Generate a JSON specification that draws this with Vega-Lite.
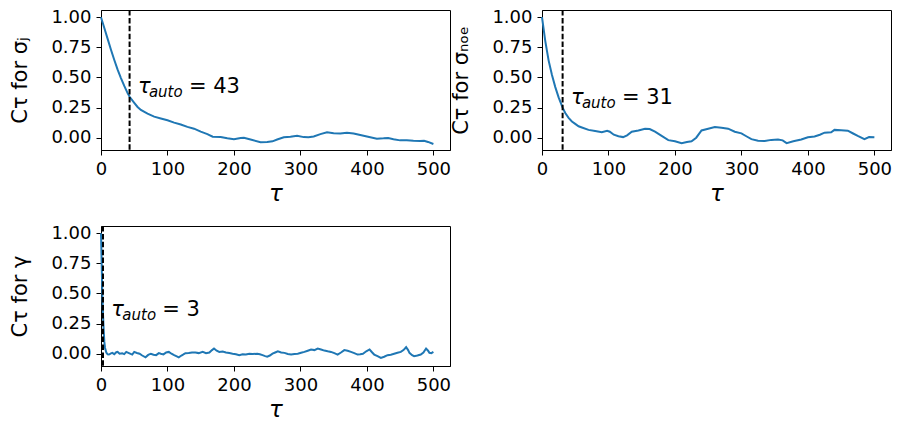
{
  "$schema": "https://vega.github.io/schema/vega-lite/v6.json",
  "padding": {"left": 9, "top": 7, "right": 5, "bottom": 5},
  "background": "white",
  "columns": 2,
  "spacing": {"column": -2, "row": 17},
  "datasets": {
    "sigJ": [
      {"tau": 0, "C": 1.0}, {"tau": 5, "C": 0.91}, {"tau": 10, "C": 0.82}, {"tau": 15, "C": 0.73},
      {"tau": 20, "C": 0.645}, {"tau": 25, "C": 0.565}, {"tau": 30, "C": 0.495}, {"tau": 35, "C": 0.43},
      {"tau": 40, "C": 0.37}, {"tau": 43, "C": 0.34}, {"tau": 50, "C": 0.29}, {"tau": 55, "C": 0.255},
      {"tau": 60, "C": 0.23}, {"tau": 70, "C": 0.2}, {"tau": 80, "C": 0.175}, {"tau": 90, "C": 0.16},
      {"tau": 100, "C": 0.145}, {"tau": 110, "C": 0.125}, {"tau": 120, "C": 0.11}, {"tau": 130, "C": 0.09},
      {"tau": 140, "C": 0.075}, {"tau": 150, "C": 0.05}, {"tau": 160, "C": 0.03}, {"tau": 168, "C": 0.008},
      {"tau": 180, "C": 0.005}, {"tau": 190, "C": -0.005}, {"tau": 200, "C": -0.012}, {"tau": 210, "C": -0.002},
      {"tau": 215, "C": 0.0}, {"tau": 225, "C": -0.015}, {"tau": 240, "C": -0.038}, {"tau": 250, "C": -0.035},
      {"tau": 258, "C": -0.03}, {"tau": 265, "C": -0.015}, {"tau": 275, "C": 0.003}, {"tau": 285, "C": 0.008},
      {"tau": 295, "C": 0.017}, {"tau": 305, "C": 0.005}, {"tau": 312, "C": 0.003}, {"tau": 320, "C": 0.01},
      {"tau": 330, "C": 0.03}, {"tau": 340, "C": 0.045}, {"tau": 350, "C": 0.038}, {"tau": 360, "C": 0.035},
      {"tau": 370, "C": 0.042}, {"tau": 380, "C": 0.035}, {"tau": 390, "C": 0.022}, {"tau": 400, "C": 0.01},
      {"tau": 415, "C": -0.008}, {"tau": 425, "C": -0.005}, {"tau": 432, "C": -0.002}, {"tau": 440, "C": -0.012},
      {"tau": 450, "C": -0.022}, {"tau": 460, "C": -0.022}, {"tau": 470, "C": -0.026}, {"tau": 480, "C": -0.028},
      {"tau": 486, "C": -0.025}, {"tau": 492, "C": -0.035}, {"tau": 500, "C": -0.052}
    ],
    "sigNoe": [
      {"tau": 0, "C": 1.0}, {"tau": 5, "C": 0.8}, {"tau": 10, "C": 0.64}, {"tau": 15, "C": 0.52},
      {"tau": 20, "C": 0.42}, {"tau": 25, "C": 0.335}, {"tau": 31, "C": 0.25}, {"tau": 35, "C": 0.205},
      {"tau": 40, "C": 0.165}, {"tau": 45, "C": 0.135}, {"tau": 50, "C": 0.115}, {"tau": 55, "C": 0.095},
      {"tau": 60, "C": 0.085}, {"tau": 70, "C": 0.065}, {"tau": 80, "C": 0.055}, {"tau": 90, "C": 0.045},
      {"tau": 98, "C": 0.058}, {"tau": 102, "C": 0.05}, {"tau": 108, "C": 0.025}, {"tau": 115, "C": 0.012},
      {"tau": 122, "C": 0.005}, {"tau": 128, "C": 0.02}, {"tau": 135, "C": 0.05}, {"tau": 145, "C": 0.06},
      {"tau": 155, "C": 0.075}, {"tau": 162, "C": 0.072}, {"tau": 170, "C": 0.05}, {"tau": 180, "C": 0.015},
      {"tau": 190, "C": -0.02}, {"tau": 200, "C": -0.03}, {"tau": 210, "C": -0.045}, {"tau": 218, "C": -0.035},
      {"tau": 225, "C": -0.03}, {"tau": 232, "C": 0.0}, {"tau": 240, "C": 0.06}, {"tau": 250, "C": 0.075},
      {"tau": 260, "C": 0.088}, {"tau": 270, "C": 0.082}, {"tau": 280, "C": 0.075}, {"tau": 290, "C": 0.05},
      {"tau": 300, "C": 0.036}, {"tau": 308, "C": 0.01}, {"tau": 315, "C": -0.012}, {"tau": 325, "C": -0.025},
      {"tau": 335, "C": -0.028}, {"tau": 345, "C": -0.018}, {"tau": 355, "C": -0.015}, {"tau": 362, "C": -0.022},
      {"tau": 368, "C": -0.045}, {"tau": 378, "C": -0.03}, {"tau": 390, "C": -0.015}, {"tau": 400, "C": 0.003},
      {"tau": 410, "C": 0.01}, {"tau": 418, "C": 0.025}, {"tau": 425, "C": 0.042}, {"tau": 435, "C": 0.045},
      {"tau": 440, "C": 0.065}, {"tau": 450, "C": 0.062}, {"tau": 460, "C": 0.058}, {"tau": 468, "C": 0.035},
      {"tau": 475, "C": 0.015}, {"tau": 485, "C": -0.012}, {"tau": 492, "C": 0.005}, {"tau": 500, "C": 0.003}
    ],
    "gamma": [
      {"tau": 0, "C": 1.0}, {"tau": 1, "C": 0.75}, {"tau": 2, "C": 0.5}, {"tau": 3, "C": 0.33},
      {"tau": 4, "C": 0.2}, {"tau": 5, "C": 0.1}, {"tau": 6, "C": 0.05}, {"tau": 8, "C": 0.01},
      {"tau": 10, "C": -0.005}, {"tau": 12, "C": -0.007}, {"tau": 15, "C": 0.003}, {"tau": 17, "C": 0.007},
      {"tau": 20, "C": -0.004}, {"tau": 23, "C": 0.012}, {"tau": 25, "C": 0.015}, {"tau": 28, "C": 0.0},
      {"tau": 32, "C": 0.004}, {"tau": 35, "C": -0.003}, {"tau": 38, "C": 0.015}, {"tau": 42, "C": 0.005},
      {"tau": 47, "C": -0.007}, {"tau": 50, "C": 0.015}, {"tau": 54, "C": 0.006}, {"tau": 58, "C": 0.0},
      {"tau": 62, "C": -0.015}, {"tau": 67, "C": -0.03}, {"tau": 71, "C": -0.01}, {"tau": 75, "C": 0.0},
      {"tau": 79, "C": -0.008}, {"tau": 83, "C": -0.012}, {"tau": 87, "C": 0.005}, {"tau": 90, "C": 0.0},
      {"tau": 94, "C": -0.006}, {"tau": 98, "C": 0.01}, {"tau": 102, "C": 0.015}, {"tau": 106, "C": 0.0},
      {"tau": 110, "C": -0.012}, {"tau": 114, "C": -0.022}, {"tau": 117, "C": -0.03}, {"tau": 121, "C": -0.015},
      {"tau": 124, "C": -0.006}, {"tau": 127, "C": 0.004}, {"tau": 132, "C": 0.005}, {"tau": 137, "C": 0.01},
      {"tau": 142, "C": 0.01}, {"tau": 147, "C": 0.005}, {"tau": 153, "C": 0.015}, {"tau": 158, "C": 0.004},
      {"tau": 163, "C": 0.01}, {"tau": 167, "C": 0.03}, {"tau": 170, "C": 0.043}, {"tau": 174, "C": 0.025},
      {"tau": 178, "C": 0.015}, {"tau": 183, "C": 0.018}, {"tau": 188, "C": 0.01}, {"tau": 193, "C": 0.005},
      {"tau": 198, "C": 0.0}, {"tau": 203, "C": -0.004}, {"tau": 208, "C": -0.012}, {"tau": 213, "C": -0.005},
      {"tau": 218, "C": -0.007}, {"tau": 223, "C": 0.0}, {"tau": 228, "C": -0.003}, {"tau": 235, "C": 0.0},
      {"tau": 239, "C": -0.005}, {"tau": 243, "C": -0.012}, {"tau": 247, "C": -0.02}, {"tau": 250, "C": -0.024},
      {"tau": 254, "C": -0.015}, {"tau": 258, "C": 0.0}, {"tau": 262, "C": 0.01}, {"tau": 266, "C": 0.02},
      {"tau": 271, "C": 0.01}, {"tau": 276, "C": 0.007}, {"tau": 281, "C": -0.002}, {"tau": 286, "C": -0.007},
      {"tau": 291, "C": -0.002}, {"tau": 296, "C": 0.0}, {"tau": 301, "C": 0.008}, {"tau": 306, "C": 0.015},
      {"tau": 311, "C": 0.025}, {"tau": 316, "C": 0.035}, {"tau": 321, "C": 0.03}, {"tau": 326, "C": 0.043},
      {"tau": 331, "C": 0.035}, {"tau": 336, "C": 0.026}, {"tau": 341, "C": 0.02}, {"tau": 346, "C": 0.015},
      {"tau": 351, "C": 0.005}, {"tau": 356, "C": -0.007}, {"tau": 361, "C": 0.01}, {"tau": 366, "C": 0.03},
      {"tau": 371, "C": 0.025}, {"tau": 376, "C": 0.015}, {"tau": 381, "C": 0.005}, {"tau": 386, "C": -0.007},
      {"tau": 390, "C": -0.005}, {"tau": 394, "C": 0.0}, {"tau": 399, "C": 0.02}, {"tau": 404, "C": 0.035},
      {"tau": 408, "C": 0.01}, {"tau": 411, "C": -0.007}, {"tau": 416, "C": -0.02}, {"tau": 421, "C": -0.035},
      {"tau": 426, "C": -0.025}, {"tau": 431, "C": -0.012}, {"tau": 436, "C": -0.008}, {"tau": 441, "C": 0.0},
      {"tau": 446, "C": 0.008}, {"tau": 451, "C": 0.015}, {"tau": 455, "C": 0.03}, {"tau": 459, "C": 0.054},
      {"tau": 462, "C": 0.03}, {"tau": 464, "C": 0.007}, {"tau": 468, "C": -0.012}, {"tau": 471, "C": -0.02},
      {"tau": 476, "C": -0.015}, {"tau": 481, "C": -0.007}, {"tau": 485, "C": 0.01}, {"tau": 489, "C": 0.043},
      {"tau": 492, "C": 0.025}, {"tau": 494, "C": 0.007}, {"tau": 497, "C": 0.005}, {"tau": 500, "C": 0.015}
    ]
  },
  "concat": [
    {
      "width": 349, "height": 140,
      "layer": [
        {
          "data": {"name": "sigJ"},
          "mark": {"type": "line", "color": "#1f77b4", "strokeWidth": 2},
          "encoding": {
            "x": {"field": "tau", "type": "quantitative", "scale": {"domain": [0, 525], "nice": false, "zero": false},
                  "axis": {"title": "τ", "values": [0, 100, 200, 300, 400, 500], "labelOverlap": false}},
            "y": {"field": "C", "type": "quantitative", "scale": {"domain": [-0.102, 1.06], "nice": false, "zero": false},
                  "axis": {"title": "Cτ for σⱼ", "values": [0, 0.25, 0.5, 0.75, 1.0], "format": ".2f", "labelOverlap": false}}
          }
        },
        {
          "data": {"values": [{"tau": 43}]},
          "mark": {"type": "rule", "color": "black", "strokeWidth": 2, "strokeDash": [5.5, 2.4]},
          "encoding": {"x": {"field": "tau", "type": "quantitative",
                  "axis": {"title": "τ", "values": [0, 100, 200, 300, 400, 500], "labelOverlap": false}}}
        },
        {
          "data": {"values": [{"tau": 55.5, "C": 0.37, "n": "= 43"}]},
          "encoding": {
            "x": {"field": "tau", "type": "quantitative",
                  "axis": {"title": "τ", "values": [0, 100, 200, 300, 400, 500], "labelOverlap": false}},
            "y": {"field": "C", "type": "quantitative",
                  "axis": {"title": "Cτ for σⱼ", "values": [0, 0.25, 0.5, 0.75, 1.0], "format": ".2f", "labelOverlap": false}}
          },
          "layer": [
            {"mark": {"type": "text", "text": "τ", "fontSize": 21, "fontStyle": "italic", "align": "left", "baseline": "alphabetic"}},
            {"mark": {"type": "text", "text": "auto", "fontSize": 15, "fontStyle": "italic", "align": "left", "baseline": "alphabetic", "dx": 11, "dy": 4}},
            {"mark": {"type": "text", "fontSize": 21, "align": "left", "baseline": "alphabetic", "dx": 51},
             "encoding": {"text": {"field": "n"}}}
          ]
        }
      ]
    },
    {
      "width": 349, "height": 140,
      "layer": [
        {
          "data": {"name": "sigNoe"},
          "mark": {"type": "line", "color": "#1f77b4", "strokeWidth": 2},
          "encoding": {
            "x": {"field": "tau", "type": "quantitative", "scale": {"domain": [0, 525], "nice": false, "zero": false},
                  "axis": {"title": "τ", "values": [0, 100, 200, 300, 400, 500], "labelOverlap": false}},
            "y": {"field": "C", "type": "quantitative", "scale": {"domain": [-0.102, 1.06], "nice": false, "zero": false},
                  "axis": {"title": "Cτ for σₙₒₑ", "values": [0, 0.25, 0.5, 0.75, 1.0], "format": ".2f", "labelOverlap": false}}
          }
        },
        {
          "data": {"values": [{"tau": 31}]},
          "mark": {"type": "rule", "color": "black", "strokeWidth": 2, "strokeDash": [5.5, 2.4]},
          "encoding": {"x": {"field": "tau", "type": "quantitative",
                  "axis": {"title": "τ", "values": [0, 100, 200, 300, 400, 500], "labelOverlap": false}}}
        },
        {
          "data": {"values": [{"tau": 43.5, "C": 0.28, "n": "= 31"}]},
          "encoding": {
            "x": {"field": "tau", "type": "quantitative",
                  "axis": {"title": "τ", "values": [0, 100, 200, 300, 400, 500], "labelOverlap": false}},
            "y": {"field": "C", "type": "quantitative",
                  "axis": {"title": "Cτ for σₙₒₑ", "values": [0, 0.25, 0.5, 0.75, 1.0], "format": ".2f", "labelOverlap": false}}
          },
          "layer": [
            {"mark": {"type": "text", "text": "τ", "fontSize": 21, "fontStyle": "italic", "align": "left", "baseline": "alphabetic"}},
            {"mark": {"type": "text", "text": "auto", "fontSize": 15, "fontStyle": "italic", "align": "left", "baseline": "alphabetic", "dx": 11, "dy": 4}},
            {"mark": {"type": "text", "fontSize": 21, "align": "left", "baseline": "alphabetic", "dx": 51},
             "encoding": {"text": {"field": "n"}}}
          ]
        }
      ]
    },
    {
      "width": 349, "height": 140,
      "layer": [
        {
          "data": {"name": "gamma"},
          "mark": {"type": "line", "color": "#1f77b4", "strokeWidth": 2},
          "encoding": {
            "x": {"field": "tau", "type": "quantitative", "scale": {"domain": [0, 525], "nice": false, "zero": false},
                  "axis": {"title": "τ", "values": [0, 100, 200, 300, 400, 500], "labelOverlap": false}},
            "y": {"field": "C", "type": "quantitative", "scale": {"domain": [-0.102, 1.06], "nice": false, "zero": false},
                  "axis": {"title": "Cτ for γ", "values": [0, 0.25, 0.5, 0.75, 1.0], "format": ".2f", "labelOverlap": false}}
          }
        },
        {
          "data": {"values": [{"tau": 3}]},
          "mark": {"type": "rule", "color": "black", "strokeWidth": 2, "strokeDash": [5.5, 2.4]},
          "encoding": {"x": {"field": "tau", "type": "quantitative",
                  "axis": {"title": "τ", "values": [0, 100, 200, 300, 400, 500], "labelOverlap": false}}}
        },
        {
          "data": {"values": [{"tau": 15.5, "C": 0.31, "n": "= 3"}]},
          "encoding": {
            "x": {"field": "tau", "type": "quantitative",
                  "axis": {"title": "τ", "values": [0, 100, 200, 300, 400, 500], "labelOverlap": false}},
            "y": {"field": "C", "type": "quantitative",
                  "axis": {"title": "Cτ for γ", "values": [0, 0.25, 0.5, 0.75, 1.0], "format": ".2f", "labelOverlap": false}}
          },
          "layer": [
            {"mark": {"type": "text", "text": "τ", "fontSize": 21, "fontStyle": "italic", "align": "left", "baseline": "alphabetic"}},
            {"mark": {"type": "text", "text": "auto", "fontSize": 15, "fontStyle": "italic", "align": "left", "baseline": "alphabetic", "dx": 11, "dy": 4}},
            {"mark": {"type": "text", "fontSize": 21, "align": "left", "baseline": "alphabetic", "dx": 51},
             "encoding": {"text": {"field": "n"}}}
          ]
        }
      ]
    }
  ],
  "config": {
    "font": "DejaVu Sans",
    "view": {"stroke": "black", "strokeWidth": 1},
    "text": {"font": "DejaVu Sans", "color": "black"},
    "axis": {
      "grid": false,
      "domainColor": "black",
      "tickColor": "black",
      "tickSize": 5,
      "tickWidth": 1,
      "labelColor": "black",
      "labelFont": "DejaVu Sans",
      "labelFontSize": 18,
      "labelPadding": 5,
      "labelFlush": false,
      "labelOverlap": false,
      "titleColor": "black",
      "titleFont": "DejaVu Sans",
      "titleFontSize": 21,
      "titleFontWeight": "normal"
    },
    "axisX": {"titleFontStyle": "italic", "titlePadding": 4, "titleFontSize": 23},
    "axisY": {"titlePadding": 20}
  }
}
